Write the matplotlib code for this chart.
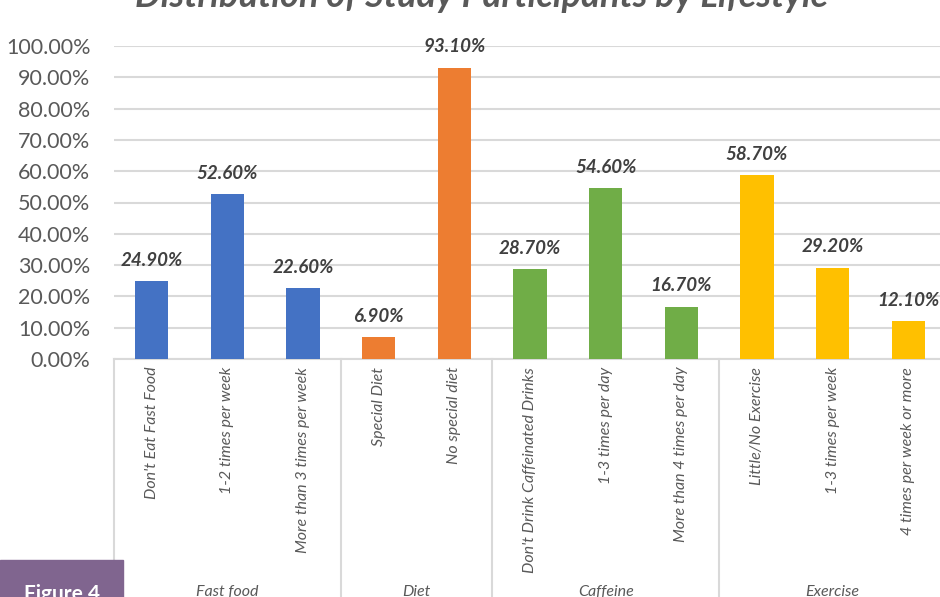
import matplotlib.pyplot as plt
from matplotlib.patches import Rectangle
from matplotlib.lines import Line2D
from matplotlib.ticker import FuncFormatter

plt.rcParams['font.family'] = ['Lato', 'DejaVu Sans']

# data
labels = ["Don't Eat Fast Food", "1-2 times per week", "More than 3 times per week",
          "Special Diet", "No special diet",
          "Don't Drink Caffeinated Drinks", "1-3 times per day", "More than 4 times per day",
          "Little/No Exercise", "1-3 times per week", "4 times per week or more"]
values = [24.9, 52.6, 22.6, 6.9, 93.1, 28.7, 54.6, 16.7, 58.7, 29.2, 12.1]
groups = ["Fast food", "Diet", "Caffeine", "Exercise"]
group_sizes = [3, 2, 3, 3]
group_colors = ["#4472C4", "#ED7D31", "#70AD47", "#FFC000"]

W, H = 940, 597
fig = plt.figure(figsize=(9.4, 5.97), dpi=100)
ax = fig.add_axes([114 / W, (H - 359) / H, 832 / W, 313 / H])

colors = []
for c, n in zip(group_colors, group_sizes):
    colors += [c] * n

xs = list(range(len(values)))
ax.bar(xs, [v / 100 for v in values], width=0.44, color=colors, zorder=3)
for x, v in zip(xs, values):
    ax.annotate(f"{v:.2f}%", (x, v / 100), xytext=(0, 9), textcoords='offset points',
                ha='center', va='bottom', fontsize=13.5, fontweight='bold',
                fontstyle='italic', color='#404040')

ax.set_xlim(-0.5, len(values) - 0.5)
ax.set_ylim(0, 1.0)
ax.set_yticks([i / 10 for i in range(11)])
ax.yaxis.set_major_formatter(FuncFormatter(lambda y, p: f"{y * 100:.2f}%"))
ax.tick_params(axis='y', length=0, labelsize=15.5, labelcolor='#595959', pad=17)
ax.set_xticks([])
ax.grid(axis='y', color='#d9d9d9', linewidth=1.5, zorder=0)
for s in ['top', 'right', 'left']:
    ax.spines[s].set_visible(False)
ax.spines['bottom'].set_color('#d9d9d9')
ax.spines['bottom'].set_linewidth(1.5)

# category labels
for x, lab in zip(xs, labels):
    ax.text(x, -0.025, lab, rotation=90, ha='center', va='top', fontsize=11.5,
            fontstyle='italic', color='#595959', transform=ax.get_xaxis_transform())

# group separators and labels
start = 0
for g, n in zip(groups, group_sizes):
    ax.add_line(Line2D([start - 0.5, start - 0.5], [0, -0.9], color='#d9d9d9', lw=1.5,
                       transform=ax.get_xaxis_transform(), clip_on=False))
    ax.text(start + (n - 1) / 2, -0.745, g, ha='center', va='center', fontsize=11.5,
            fontstyle='italic', color='#595959', transform=ax.get_xaxis_transform())
    start += n
ax.add_line(Line2D([start - 0.5, start - 0.5], [0, -0.9], color='#d9d9d9', lw=1.5,
                   transform=ax.get_xaxis_transform(), clip_on=False))

fig.text(482 / W, 1 - 7 / H, "Distribution of Study Participants by Lifestyle",
         ha='center', va='baseline', fontsize=26, fontweight='bold',
         fontstyle='italic', color='#595959')

# figure tag
fig.patches.append(Rectangle((0, 0), 123 / W, 37 / H, transform=fig.transFigure,
                             color='#80658F', zorder=5))
fig.text(62 / W, 1 - 584 / H, "Figure 4", ha='center', va='top', fontsize=15,
         fontweight='bold', color='white', zorder=6)

fig.savefig('out.png', dpi=100)
